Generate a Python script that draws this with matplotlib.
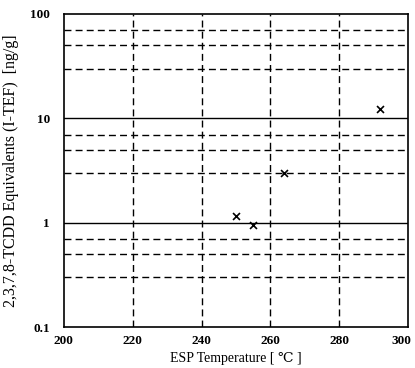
import matplotlib.pyplot as plt
from matplotlib.transforms import ScaledTranslation

# data
esp_temp = [250, 255, 264, 292]
teq = [1.17, 0.96, 3.0, 12.2]

x_ticks = [200, 220, 240, 260, 280, 300]
y_ticks = [0.1, 1, 10, 100]
y_tick_labels = ["0.1", "1", "10", "100"]
minor_lines = [0.3, 0.5, 0.7, 3, 5, 7, 30, 50, 70]

plt.rcParams['font.family'] = ['Liberation Serif', 'DejaVu Serif']

fig = plt.figure(figsize=(4.15, 3.68), dpi=100)
ax = fig.add_axes([0.154, 0.111, 0.829, 0.851])

ax.set_yscale('log')
ax.set_xlim(200, 300)
ax.set_ylim(0.1, 100)

# grid: dashed verticals, solid decades, dashed minor horizontals
for x in x_ticks[1:-1]:
    ax.axvline(x, color='black', linestyle=(0, (5, 3)), linewidth=1.0)
for y in [1, 10]:
    ax.axhline(y, color='black', linestyle='-', linewidth=1.0)
for y in minor_lines:
    ax.axhline(y, color='black', linestyle=(0, (5, 3)), linewidth=1.0)

ax.scatter(esp_temp, teq, marker='x', color='black', s=25, linewidths=1.2, zorder=3)

ax.set_xticks(x_ticks)
ax.set_yticks(y_ticks)
ax.set_yticklabels(y_tick_labels)
ax.minorticks_off()
ax.tick_params(length=0, labelsize=9.5)
ax.tick_params(axis='y', pad=10)
ax.tick_params(axis='x', pad=6)
for lbl in ax.get_xticklabels() + ax.get_yticklabels():
    lbl.set_fontweight('bold')

# keep the last x label inside the figure
last = ax.get_xticklabels()[-1]
last.set_transform(last.get_transform() + ScaledTranslation(-5 / 72, 0, fig.dpi_scale_trans))

for s in ax.spines.values():
    s.set_linewidth(1.2)

ax.set_xlabel("ESP Temperature [ \u2103 ]", fontsize=10, labelpad=3)
ax.set_ylabel("2,3,7,8-TCDD Equivalents (I-TEF)  [ng/g]", fontsize=11.5, labelpad=8)

fig.savefig("out.png", dpi=100)
